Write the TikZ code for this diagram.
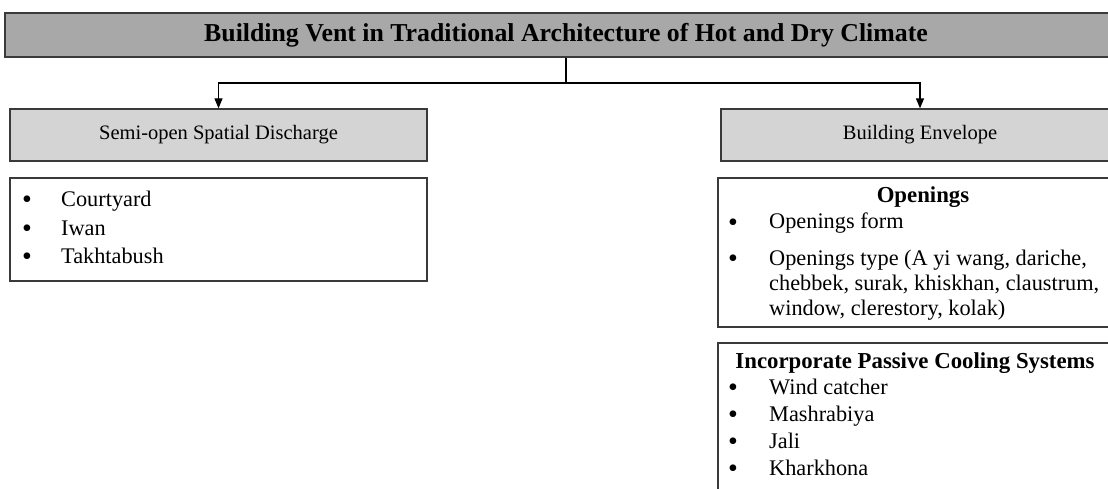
\documentclass[tikz,border=0pt]{standalone}
\usepackage{fontspec}
\setmainfont{Liberation Serif}
\usetikzlibrary{arrows.meta}
\definecolor{titlegray}{HTML}{A8A8A8}
\definecolor{subgray}{HTML}{D4D4D4}
\definecolor{edgegray}{HTML}{3A3A3A}
\begin{document}
\begin{tikzpicture}[x=1pt,y=-1pt,
  box/.style={draw=edgegray, line width=1.3pt, inner sep=0pt},
  headbox/.style={box, fill=subgray, minimum height=52pt, font=\fontsize{20.5}{24}\selectfont},
  listbox/.style={box, fill=white},
  txt/.style={font=\fontsize{22.3}{25}\selectfont, inner sep=0pt, anchor=base west},
  bul/.style={font=\fontsize{28}{30}\selectfont, inner sep=0pt, anchor=base, yshift=-2pt},
  ttl/.style={font=\fontsize{22.8}{26}\selectfont\bfseries, inner sep=0pt, anchor=base},
  conn/.style={draw=black, line width=1.2pt},
  arr/.style={conn, -{Triangle[width=8pt,length=10pt]}}]
\useasboundingbox (0,0) rectangle (1108,489);
\clip (0,0) rectangle (1108,489);
% title
\node[box, fill=titlegray, minimum width=1122pt, minimum height=44pt,
      font=\fontsize{25.8}{28}\selectfont\bfseries] (title) at (566,35)
      {Building Vent in Traditional Architecture of Hot and Dry Climate};
% second level
\node[headbox, minimum width=417pt] (semi) at (218.5,135) {Semi-open Spatial Discharge};
\node[headbox, minimum width=398pt] (env) at (920,135) {Building Envelope};
\coordinate (split) at (566,83);
\draw[conn] (title.south) -- (split);
\draw[arr] (split) -| (semi.north);
\draw[arr] (split) -| (env.north);
% left list box
\node[listbox, minimum width=417pt, minimum height=103pt] (leftlist) at (218.5,229.5) {};
\node[bul] (lb1) at (27,207) {•};
\node[txt] (l1) at (61,207) {Courtyard};
\node[bul] (lb2) at (27,235) {•};
\node[txt] (l2) at (61,235) {Iwan};
\node[bul] (lb3) at (27,263) {•};
\node[txt] (l3) at (61,263) {Takhtabush};
% openings box
\node[listbox, minimum width=402pt, minimum height=149pt] (open) at (919,252.5) {};
\node[ttl] (ot) at (923,203) {Openings};
\node[bul] (ob1) at (733,229) {•};
\node[txt] (o1) at (769,229) {Openings form};
\node[bul] (ob2) at (733,265) {•};
\node[txt] (o2) at (769,265) {Openings type (A yi wang, dariche,};
\node[txt] (o3) at (769,290) {chebbek, surak, khiskhan, claustrum,};
\node[txt] (o4) at (769,315) {window, clerestory, kolak)};
% passive box
\node[listbox, minimum width=402pt, minimum height=170pt] (pass) at (919,428) {};
\node[ttl] (pt) at (915,368) {Incorporate Passive Cooling Systems};
\node[bul] (pb1) at (733,394) {•};
\node[txt] (p1) at (769,394) {Wind catcher};
\node[bul] (pb2) at (733,421) {•};
\node[txt] (p2) at (769,421) {Mashrabiya};
\node[bul] (pb3) at (733,448) {•};
\node[txt] (p3) at (769,448) {Jali};
\node[bul] (pb4) at (733,475) {•};
\node[txt] (p4) at (769,475) {Kharkhona};
\end{tikzpicture}
\end{document}
